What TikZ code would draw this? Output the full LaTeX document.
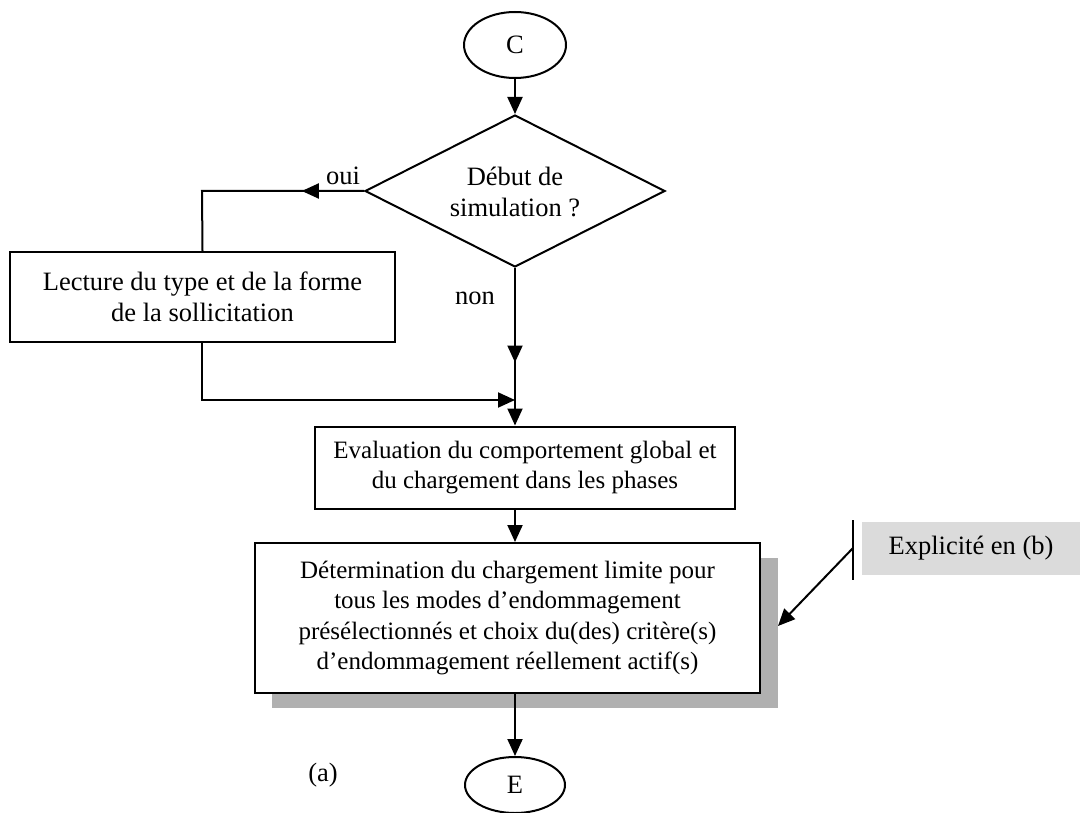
\documentclass[tikz,border=0pt]{standalone}
\usepackage{fontspec}
\setmainfont{Liberation Serif}
\usetikzlibrary{shapes.geometric,arrows.meta,decorations.markings}
\tikzset{
  ln/.style={line width=2pt},
  tip/.style={-{Triangle[length=17pt,width=15pt]}},
  midtip/.style={postaction={decorate},decoration={markings,mark=at position #1 with {\arrow{Triangle[length=17pt,width=15pt]}}}},
  box/.style={draw,line width=2pt,fill=white,align=center,inner sep=0pt},
  oval/.style={draw,ellipse,line width=2pt,inner sep=0pt},
  txt/.style={font=\fontsize{26.5}{30.5}\selectfont},
  stxt/.style={font=\fontsize{25}{30.5}\selectfont}
}
\begin{document}
\begin{tikzpicture}[x=1pt,y=-1pt]
\useasboundingbox (0,0) rectangle (1089,813);
% shadow
\fill[gray!62] (272,558) rectangle (778,708);
\node[oval,txt,minimum width=102pt,minimum height=66pt] (c) at (515,45) {C};
\node[draw,diamond,line width=2pt,inner sep=0pt,minimum width=300pt,minimum height=152pt] (d) at (515,191) {};
\node[txt,align=center] (dt) at (515,192) {Début de\\simulation ?};
\node[box,txt,minimum width=385pt,minimum height=90pt] (lec) at (202.5,297) {Lecture du type et de la forme\\de la sollicitation};
\node[box,stxt,minimum width=420pt,minimum height=82pt] (ev) at (525,467.5) {Evaluation du comportement global et\\du chargement dans les phases};
\node[box,stxt,minimum width=505pt,minimum height=150pt] (det) at (507.5,618) {Détermination du chargement limite pour\\tous les modes d’endommagement\\présélectionnés et choix du(des) critère(s)\\d’endommagement réellement actif(s)};
\node[oval,txt,minimum width=100pt,minimum height=56pt] (e) at (515,785) {E};
\node[fill=gray!28,txt,minimum width=218pt,minimum height=53pt,inner sep=0pt] (ex) at (971,548.5) {Explicité en (b)};
\coordinate (vt) at (853,520);
\coordinate (vb) at (853,580);
\draw[ln] (vt) -- (vb);
\coordinate (as) at (853,548);
\coordinate (ae) at (778,626);
\draw[ln,tip] (as) -- (ae);
\node[txt] (oui) at (343,176) {oui};
\node[txt] (non) at (475,298) {non};
\node[txt] (a) at (323,775) {(a)};
% connectors
\draw[ln,tip] (c) -- (d.north);
\coordinate (ol) at (202,191);
\draw[ln,midtip=0.28] (d.west) -- (ol) -- (lec.north);
\coordinate (rl) at (202,400);
\coordinate (rj) at (515,400);
\draw[ln,tip] (lec.south -| rl) -- (rl) -- (rj);
\draw[ln,tip,midtip=0.6] (d.south) -- (d.south |- ev.north);
\draw[ln,tip] (ev.south -| d.south) -- (det.north -| d.south);
\draw[ln,tip] (det.south -| d.south) -- (e.north);
\end{tikzpicture}
\end{document}
